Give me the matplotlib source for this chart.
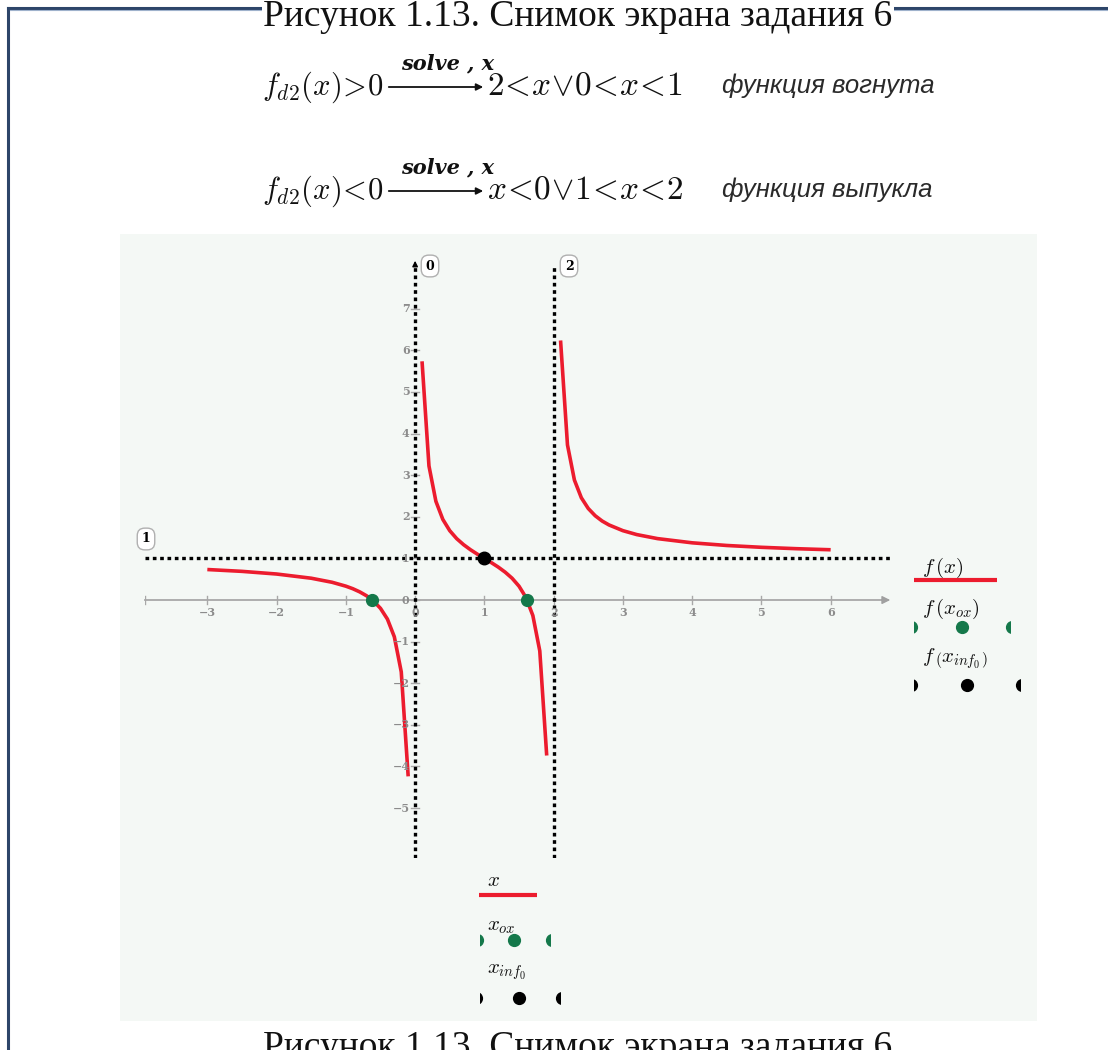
import matplotlib
matplotlib.use("Agg")
import matplotlib.pyplot as plt
import numpy as np
from matplotlib.patches import Rectangle
from matplotlib.lines import Line2D

# ---------------- data ----------------
x_left = [-3.0, -2.5, -2.0, -1.5, -1.2, -1.0, -0.9, -0.8, -0.7, -0.6, -0.5, -0.4, -0.3, -0.2, -0.1]
y_left = [0.733, 0.689, 0.625, 0.524, 0.427, 0.333, 0.272, 0.196, 0.101, -0.026, -0.200, -0.458, -0.884, -1.727, -4.238]
x_mid = [0.1, 0.2, 0.3, 0.4, 0.5, 0.6, 0.7, 0.8, 0.9, 1.0, 1.1, 1.2, 1.3, 1.4, 1.5, 1.6, 1.7, 1.8, 1.9]
y_mid = [5.737, 3.222, 2.373, 1.938, 1.667, 1.476, 1.330, 1.208, 1.101, 1.0, 0.899, 0.792, 0.670, 0.524, 0.333, 0.063, -0.373, -1.222, -3.737]
x_right = [2.1, 2.2, 2.3, 2.4, 2.5, 2.6, 2.7, 2.8, 3.0, 3.2, 3.5, 4.0, 4.5, 5.0, 5.5, 6.0]
y_right = [6.238, 3.727, 2.884, 2.458, 2.200, 2.026, 1.899, 1.804, 1.667, 1.573, 1.476, 1.375, 1.311, 1.267, 1.234, 1.208]
x_ox = [-0.618, 1.618]
y_ox = [0.0, 0.0]
x_inf = [1.0]
y_inf = [1.0]
vert_asym = [0, 2]
horiz_asym = [1]
x_ticks = [-3, -2, -1, 0, 1, 2, 3, 4, 5, 6]
y_ticks = [-5, -4, -3, -2, -1, 0, 1, 2, 3, 4, 5, 6, 7]

# ---------------- figure ----------------
W, H = 1108, 1050
fig = plt.figure(figsize=(W / 100, H / 100), dpi=100)
fig.patch.set_facecolor("white")

def fx(px):
    return px / W

def fy(py):
    return 1 - py / H

RED = "#ec1c2e"
GREEN = "#14784a"
FRAME = "#2d4569"
PANEL = "#f4f8f5"
GRAY = "#8c8c8c"

# frame lines
fig.add_artist(Line2D([fx(8), fx(8)], [fy(8), 0], color=FRAME, lw=2.2, transform=fig.transFigure))
fig.add_artist(Line2D([fx(8), 1], [fy(8), fy(8)], color=FRAME, lw=2.2, transform=fig.transFigure))
fig.add_artist(Line2D([fx(10), 1], [fy(9.6), fy(9.6)], color="#9fb2cc", lw=0.8, transform=fig.transFigure))

# captions
fig.text(fx(578), fy(26), "Рисунок 1.13. Снимок экрана задания 6", family="Liberation Serif",
         fontsize=27, ha="center", va="baseline", color="#111",
         bbox=dict(facecolor="white", edgecolor="none", pad=1))
fig.text(fx(578), fy(1057), "Рисунок 1.13. Снимок экрана задания 6", family="Liberation Serif",
         fontsize=27, ha="center", va="baseline", color="#111")

# gray panel
fig.add_artist(Rectangle((fx(120), fy(1021)), fx(1037) - fx(120), fy(234) - fy(1021),
                         transform=fig.transFigure, facecolor=PANEL, edgecolor="none", zorder=0))

plt.rcParams["mathtext.fontset"] = "cm"

# formulas
rows = [(95, r"$f_{d2}(x)\!>\!0$", r"$2\!<\!x\!\vee\!0\!<\!x\!<\!1$", "функция вогнута"),
        (199, r"$f_{d2}(x)\!<\!0$", r"$x\!<\!0\!\vee\!1\!<\!x\!<\!2$", "функция выпукла")]
for base, lhs, rhs, word in rows:
    fig.text(fx(262), fy(base), lhs, fontsize=22, ha="left", va="baseline", color="#111")
    fig.add_artist(matplotlib.patches.FancyArrowPatch((fx(386), fy(base - 8)), (fx(486), fy(base - 8)),
                   transform=fig.transFigure, arrowstyle="-|>", mutation_scale=10, lw=1.3, color="#111"))
    fig.text(fx(448), fy(base - 26), "solve , x", family="DejaVu Serif", style="italic", weight="bold",
             fontsize=15, ha="center", va="baseline", color="#111")
    fig.text(fx(487), fy(base), rhs, fontsize=24, ha="left", va="baseline", color="#111")
    fig.text(fx(722), fy(base - 2), word, family="Liberation Sans", style="italic",
             fontsize=18.5, ha="left", va="baseline", color="#2a2a2a")

# ---------------- main plot ----------------
L, R, T, B = 145, 893, 258, 858
ax = fig.add_axes([fx(L), fy(B), fx(R) - fx(L), fy(T) - fy(B)])
ax.set_xlim(-3.9, 6.9)
ax.set_ylim(-6.2, 8.22)
ax.patch.set_alpha(0)
for s in ax.spines.values():
    s.set_visible(False)
ax.set_xticks([])
ax.set_yticks([])

# x axis with arrow
ax.plot([-3.9, 6.75], [0, 0], color="#a8a8a8", lw=1.3, zorder=1, clip_on=False)
ax.annotate("", xy=(6.9, 0), xytext=(6.7, 0),
            arrowprops=dict(arrowstyle="-|>", color="#a0a0a0", lw=1.0, mutation_scale=12))
for t in x_ticks + [-3.9]:
    ax.plot([t, t], [-0.1, 0.1], color="#a8a8a8", lw=1.0, zorder=1)
for t in x_ticks:
    lbl = ("−" + str(-t)) if t < 0 else str(t)
    ax.text(t, -0.3, lbl, family="DejaVu Serif", weight="bold", fontsize=8, color=GRAY,
            ha="center", va="center", zorder=4)
for t in y_ticks:
    ax.plot([-0.06, 0.06], [t, t], color="#a8a8a8", lw=1.0, zorder=1)
    lbl = ("−" + str(-t)) if t < 0 else str(t)
    ax.text(-0.08, t, lbl, family="DejaVu Serif", weight="bold", fontsize=8, color=GRAY,
            ha="right", va="center", zorder=4)

# asymptote dotted lines
for v in vert_asym:
    ax.plot([v, v], [-6.2, 8.05], color="black", lw=2.4, ls=(0, (1.1, 1.1)), zorder=2)
for h in horiz_asym:
    ax.plot([-3.9, 6.9], [h, h], color="black", lw=2.4, ls=(0, (1.1, 1.1)), zorder=2)
ax.annotate("", xy=(0, 8.22), xytext=(0, 7.95),
            arrowprops=dict(arrowstyle="-|>", color="black", lw=1.0, mutation_scale=8))

# boxed labels
box = dict(boxstyle="round,pad=0.35,rounding_size=0.6", facecolor="white", edgecolor="#b0b0b0", lw=1.0)
fig.text(fx(430), fy(266), "0", family="DejaVu Serif", weight="bold", fontsize=9, ha="center", va="center", bbox=box)
fig.text(fx(569), fy(266), "2", family="DejaVu Serif", weight="bold", fontsize=9, ha="center", va="center", bbox=box)
fig.text(fx(146), fy(539), "1", family="DejaVu Serif", weight="bold", fontsize=9, ha="center", va="center", bbox=box)

# curve
for xs, ys in [(x_left, y_left), (x_mid, y_mid), (x_right, y_right)]:
    ax.plot(xs, ys, color=RED, lw=2.6, zorder=3, solid_capstyle="butt")
ax.plot(x_ox, y_ox, "o", color=GREEN, ms=8.5, zorder=5)
ax.plot(x_inf, y_inf, "o", color="black", ms=9, zorder=5)

# ---------------- legends ----------------
def sample(xl, xr, ypix, kind, color, pts=None):
    a = fig.add_axes([fx(xl), fy(ypix + 8), fx(xr) - fx(xl), fy(ypix - 8) - fy(ypix + 8)])
    a.set_xlim(0, 1)
    a.set_ylim(-1, 1)
    a.axis("off")
    if kind == "line":
        a.plot([0, 1], [0, 0], color=color, lw=3, solid_capstyle="butt")
    else:
        a.plot(pts, [0] * len(pts), "o", color=color, ms=8.5, clip_on=True)
    return a

# right legend
fig.text(fx(922), fy(573), r"$f\,(x)$", fontsize=15, ha="left", va="baseline", color="#111")
sample(914, 997, 580, "line", RED)
fig.text(fx(922), fy(614), r"$f\,(x_{ox})$", fontsize=15, ha="left", va="baseline", color="#111")
sample(914, 1010, 627, "pts", GREEN, [-0.03, 0.5, 1.02])
fig.text(fx(922), fy(662), r"$f\,\left(x_{inf_{0}}\right)$", fontsize=15, ha="left", va="baseline", color="#111")
sample(914, 1020, 685, "pts", "black", [-0.03, 0.5, 1.02])

# bottom legend
fig.text(fx(487), fy(886), r"$x$", fontsize=15, ha="left", va="baseline", color="#111")
sample(479, 537, 895, "line", RED)
fig.text(fx(487), fy(930), r"$x_{ox}$", fontsize=15, ha="left", va="baseline", color="#111")
sample(480, 550, 940, "pts", GREEN, [-0.05, 0.49, 1.03])
fig.text(fx(487), fy(973), r"$x_{inf_0}$", fontsize=15, ha="left", va="baseline", color="#111")
sample(480, 560, 998, "pts", "black", [-0.05, 0.49, 1.03])

fig.savefig("out.png", dpi=100)
